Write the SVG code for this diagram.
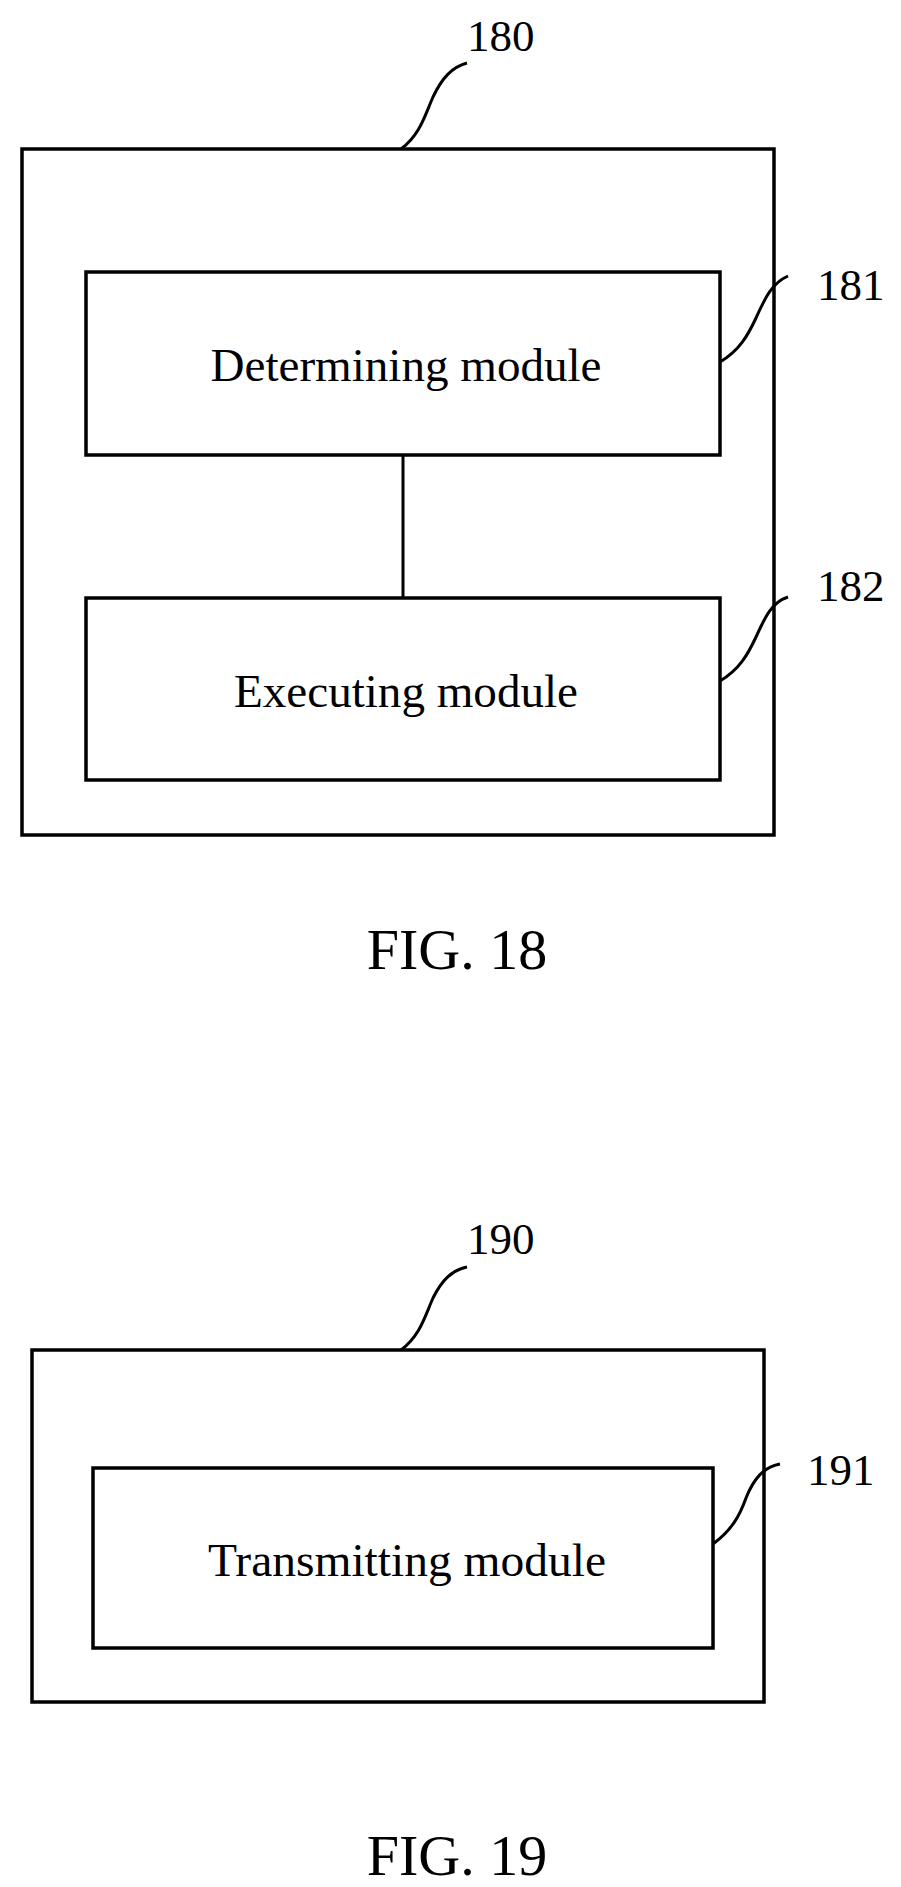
<svg xmlns="http://www.w3.org/2000/svg" width="901" height="1887" viewBox="0 0 901 1887">
<style>
.b{fill:none;stroke:#000;stroke-width:3.5}
.l{fill:none;stroke:#000;stroke-width:3}
text{font-family:"Liberation Serif","Times New Roman",serif;fill:#000}
.m{font-size:47px;text-anchor:middle}
.n{font-size:45px}
.f{font-size:58px;text-anchor:middle}
</style>
<rect width="901" height="1887" fill="#fff"/>
<g id="n180"><rect class="b" x="22" y="149" width="752" height="686"/><text class="n" x="467" y="51">180</text></g>
<g id="n181"><rect class="b" x="86" y="272" width="634" height="183"/><text class="m" x="406" y="381" textLength="391" lengthAdjust="spacingAndGlyphs">Determining module</text><text class="n" x="817" y="300">181</text></g>
<g id="n182"><rect class="b" x="86" y="598" width="634" height="182"/><text class="m" x="406" y="707" textLength="344" lengthAdjust="spacingAndGlyphs">Executing module</text><text class="n" x="817" y="601">182</text></g>
<text class="f" x="457" y="969">FIG. 18</text>
<g id="n190"><rect class="b" x="32" y="1350" width="732" height="352"/><text class="n" x="467" y="1254">190</text></g>
<g id="n191"><rect class="b" x="93" y="1468" width="620" height="180"/><text class="m" x="407" y="1576" textLength="398" lengthAdjust="spacingAndGlyphs">Transmitting module</text><text class="n" x="807" y="1485">191</text></g>
<text class="f" x="457" y="1875">FIG. 19</text>
<g id="connectors">
<line class="l" x1="403" y1="456" x2="403" y2="598"/>
<path class="l" d="M401,149 C420,135 425,115 433,97 C442,78 452,67 467,63"/>
<path class="l" d="M720,362 C740,350 748,335 756,318 C765,298 772,283 788,276"/>
<path class="l" d="M720,681 C740,669 748,654 756,637 C765,617 772,602 788,597"/>
<path class="l" d="M401,1350 C420,1336 425,1316 433,1298 C442,1280 452,1270 467,1267"/>
<path class="l" d="M713,1544 C732,1530 740,1515 746,1498 C754,1478 764,1467 780,1464"/>
</g>
</svg>
